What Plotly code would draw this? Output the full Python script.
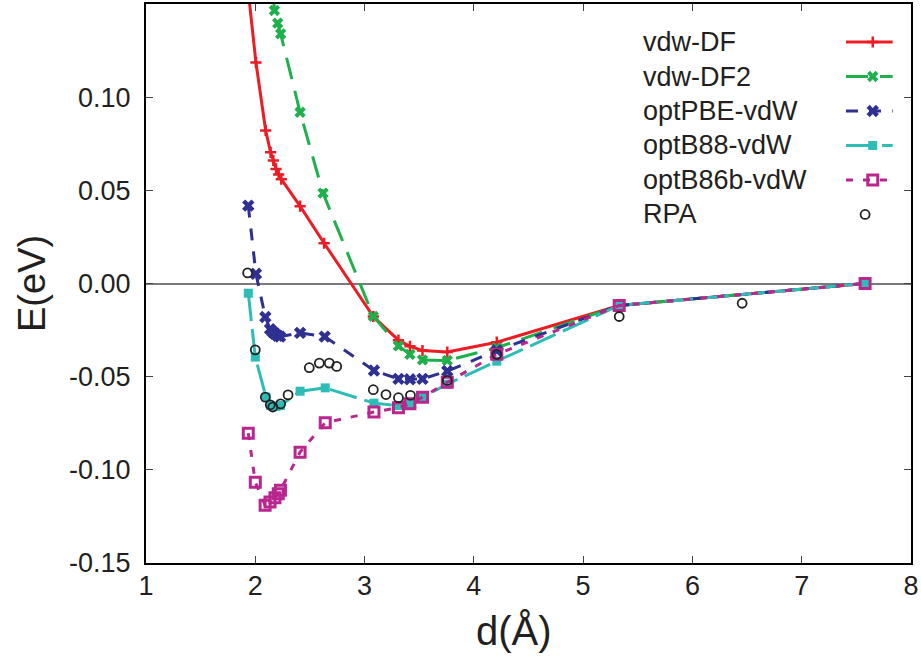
import plotly.graph_objects as go

# ---------------- data ----------------
VDWDF_X = [1.93, 2.006, 2.095, 2.14, 2.165, 2.19, 2.214, 2.238, 2.41, 2.63,
           3.08, 3.31, 3.415, 3.53, 3.757, 4.21, 5.33, 7.58]
VDWDF_Y = [0.16, 0.1186, 0.0821, 0.0704, 0.066, 0.0615, 0.0585, 0.056, 0.0415, 0.0216,
           -0.0177, -0.0304, -0.0337, -0.036, -0.0368, -0.0315, -0.0118, 0.0]

VDWDF2_X = [2.14, 2.16, 2.175, 2.205, 2.232, 2.41, 2.62,
            3.08, 3.31, 3.415, 3.53, 3.757, 4.21, 5.33, 7.58]
VDWDF2_Y = [0.175, 0.155, 0.1465, 0.1397, 0.134, 0.0919, 0.0485,
            -0.0176, -0.0335, -0.038, -0.041, -0.0413, -0.0345, -0.0118, 0.0]

OPTPBE_X = [1.936, 2.006, 2.092, 2.135, 2.16, 2.18, 2.205, 2.226, 2.41, 2.635,
            3.086, 3.31, 3.415, 3.53, 3.757, 4.21, 5.33, 7.58]
OPTPBE_Y = [0.0418, 0.0052, -0.018, -0.0245, -0.026, -0.027, -0.028, -0.0285, -0.0265, -0.0285,
            -0.0467, -0.0512, -0.0514, -0.0512, -0.047, -0.036, -0.0118, 0.0]

OPTB88_X = [1.936, 2.0, 2.098, 2.14, 2.19, 2.23, 2.41, 2.64,
            3.086, 3.31, 3.415, 3.53, 3.757, 4.21, 5.33, 7.58]
OPTB88_Y = [-0.0052, -0.0395, -0.061, -0.0655, -0.066, -0.0655, -0.0578, -0.056,
            -0.0642, -0.0655, -0.065, -0.061, -0.054, -0.0417, -0.0118, 0.0]

OPTB86B_X = [1.936, 2.0, 2.09, 2.135, 2.18, 2.21, 2.23, 2.41, 2.64,
             3.086, 3.31, 3.415, 3.53, 3.757, 4.21, 5.33, 7.58]
OPTB86B_Y = [-0.0803, -0.1066, -0.119, -0.1173, -0.115, -0.1128, -0.111, -0.0905, -0.0747,
             -0.069, -0.0667, -0.0646, -0.061, -0.053, -0.038, -0.0118, 0.0]

RPA_X = [1.93, 2.0, 2.092, 2.137, 2.16, 2.232, 2.30, 2.494, 2.586, 2.677, 2.745,
         3.08, 3.196, 3.31, 3.42, 3.757, 4.21, 5.33, 6.455]
RPA_Y = [0.0057, -0.0356, -0.061, -0.0651, -0.0663, -0.0646, -0.0598, -0.0452, -0.0427, -0.0427, -0.0445,
         -0.057, -0.0596, -0.0613, -0.060, -0.052, -0.038, -0.0177, -0.0106]

X_TICKS = [1, 2, 3, 4, 5, 6, 7, 8]
X_TICK_LABELS = ["1", "2", "3", "4", "5", "6", "7", "8"]
Y_TICKS = [-0.15, -0.10, -0.05, 0.00, 0.05, 0.10]
Y_TICK_LABELS = ["-0.15", "-0.10", "-0.05", "0.00", "0.05", "0.10"]

NAMES = ["vdw-DF", "vdw-DF2", "optPBE-vdW", "optB88-vdW", "optB86b-vdW", "RPA"]

# ---------------- styles ----------------
FONT = "Liberation Sans, Arial, Helvetica, sans-serif"
RED = "#EC1C24"
GREEN = "#1DB04B"
BLUE = "#2E3192"
CYAN = "#2DBDB6"
MAGENTA = "#B9268E"
TXT = "#231F20"

STYLES = [
    dict(line=dict(color=RED, width=3, dash="solid"),
         marker=dict(symbol="cross-thin", size=8, line=dict(color=RED, width=2.5))),
    dict(line=dict(color=GREEN, width=3, dash="22px,12px"),
         marker=dict(symbol="x", size=10, color=GREEN, line=dict(width=0))),
    dict(line=dict(color=BLUE, width=3, dash="12px,11px"),
         marker=dict(symbol="x", size=11, color=BLUE, line=dict(width=0))),
    dict(line=dict(color=CYAN, width=3, dash="28px,8px"),
         marker=dict(symbol="square", size=9, color=CYAN, line=dict(width=0))),
    dict(line=dict(color=MAGENTA, width=3, dash="7px,10px"),
         marker=dict(symbol="square-open", size=10, color=MAGENTA, line=dict(color=MAGENTA, width=3))),
]
RPA_MARKER = dict(symbol="circle-open", size=9, color="#222", line=dict(color="#222", width=1.8))

fig = go.Figure()

series = [(VDWDF_X, VDWDF_Y), (VDWDF2_X, VDWDF2_Y), (OPTPBE_X, OPTPBE_Y),
          (OPTB88_X, OPTB88_Y), (OPTB86B_X, OPTB86B_Y)]
for (xs, ys), st, nm in zip(series, STYLES, NAMES):
    fig.add_trace(go.Scatter(x=xs, y=ys, mode="lines+markers", name=nm,
                             line=st["line"], marker=st["marker"], showlegend=False))

fig.add_trace(go.Scatter(x=RPA_X, y=RPA_Y, mode="markers", name="RPA", showlegend=False,
                         marker=RPA_MARKER))

# ---------------- custom gnuplot-style legend (text left, sample right) ----------------
LEG_Y0, LEG_DY = 0.932, 0.0617
LEG_TEXT_X = 0.647
LEG_LINE_X = [0.915, 0.976]
LEG_MARK_X = 0.950
for i, nm in enumerate(NAMES):
    yy = LEG_Y0 - i * LEG_DY
    fig.add_annotation(x=LEG_TEXT_X, y=yy, xref="x2", yref="y2", text=nm, showarrow=False,
                       xanchor="left", yanchor="middle",
                       font=dict(family=FONT, size=27, color=TXT))
    if i < len(STYLES):
        st = STYLES[i]
        fig.add_trace(go.Scatter(x=LEG_LINE_X, y=[yy, yy], xaxis="x2", yaxis="y2",
                                 mode="lines", line=st["line"], showlegend=False,
                                 hoverinfo="skip"))
        fig.add_trace(go.Scatter(x=[LEG_MARK_X], y=[yy], xaxis="x2", yaxis="y2",
                                 mode="markers", marker=st["marker"], showlegend=False,
                                 hoverinfo="skip"))
    else:
        fig.add_trace(go.Scatter(x=[LEG_MARK_X - 0.01], y=[yy], xaxis="x2", yaxis="y2",
                                 mode="markers", showlegend=False, hoverinfo="skip",
                                 marker=RPA_MARKER))

# x-axis title placed like the reference (slightly left of centre)
fig.add_annotation(x=0.481, y=-0.078, xref="paper", yref="paper", text="d(Å)",
                   showarrow=False, xanchor="center", yanchor="top",
                   font=dict(family=FONT, size=40, color=TXT))

axis_common = dict(
    showgrid=False, ticks="inside", ticklen=7, tickwidth=1.3, tickcolor="#444",
    showline=True, linewidth=2, linecolor="black", mirror="ticks",
    tickfont=dict(family=FONT, size=27, color=TXT),
)

fig.update_layout(
    width=921, height=661,
    margin=dict(l=146, r=10, t=4, b=98, autoexpand=False),
    paper_bgcolor="white", plot_bgcolor="white",
    showlegend=False,
    xaxis=dict(range=[1, 8], tickvals=X_TICKS, ticktext=X_TICK_LABELS,
               zeroline=False, ticklabelstandoff=-2,
               **axis_common),
    yaxis=dict(range=[-0.15, 0.15], tickvals=Y_TICKS, ticktext=Y_TICK_LABELS,
               zeroline=True, zerolinecolor="#7a7a7a", zerolinewidth=1.5,
               ticklabelstandoff=8,
               title=dict(text="E(eV)", standoff=12, font=dict(family=FONT, size=38, color=TXT)),
               **axis_common),
    xaxis2=dict(overlaying="x", range=[0, 1], visible=False, anchor="y2"),
    yaxis2=dict(overlaying="y", range=[0, 1], visible=False, anchor="x2"),
)

fig.write_html("out.html", config={"displayModeBar": False},
               post_script="document.body.style.margin='0';")
